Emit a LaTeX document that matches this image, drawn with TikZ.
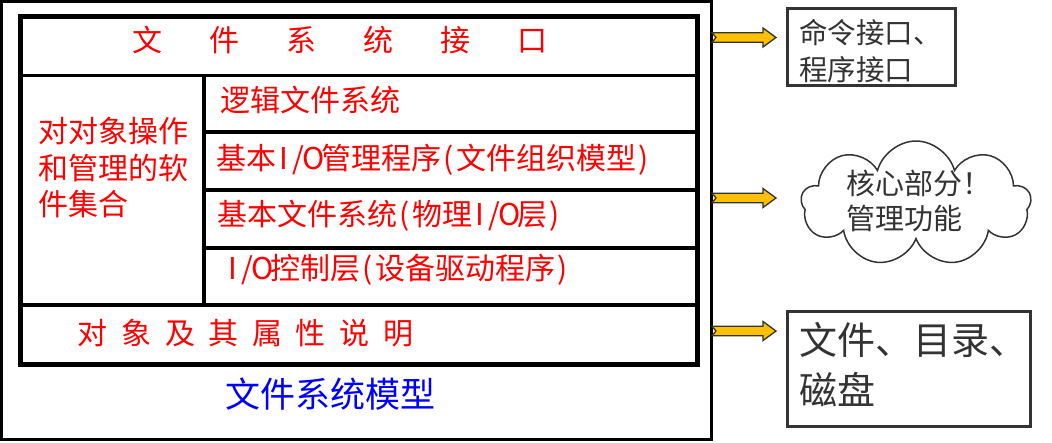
\documentclass[tikz,border=0pt]{standalone}
\usepackage{fontspec}
\newfontfamily\cjk{Noto Sans CJK SC}
\usetikzlibrary{shapes.symbols}
\definecolor{arrowfill}{HTML}{FFC000}
\definecolor{darkline}{HTML}{333333}
\newcommand\hw[1]{\makebox[15pt][c]{#1}}
\newcommand\gapA{\hspace{47pt}}
\newcommand\gapB{\hspace{13.6pt}}
\newcommand\fatarr[2]{%
  \coordinate (#2) at (712,#1);
  \draw[fill=arrowfill, draw=darkline, line width=1.3pt, line join=miter]
    (712,#1-4.8) -- (763,#1-4.8) -- (763,#1-9.5) -- (776,#1) -- (763,#1+9.5)
    -- (763,#1+4.8) -- (712,#1+4.8) -- (716,#1) -- cycle;}
\begin{document}
\begin{tikzpicture}[x=1pt,y=-1pt,
  redtxt/.style={font=\cjk\fontsize{30}{36.5}\selectfont, text=red, inner sep=0pt},
  grtxt/.style={font=\cjk\fontsize{#1}{#1}\selectfont, text=darkline, inner sep=0pt, align=left},
  sidebox/.style={draw=darkline, line width=3pt, inner sep=0pt},
  gridline/.style={line width=3.5pt}]
\useasboundingbox (0,0) rectangle (1052,442);
\fill[white] (0,0) rectangle (1052,442);
% outer and inner frames
\draw[line width=3pt] (1.5,1.5) rectangle (711.5,439.5);
\draw[line width=5pt] (20,16) rectangle (697,364.5);
\draw[gridline] (20,75.5) -- (697,75.5);
\draw[gridline] (20,305) -- (697,305);
\draw[gridline] (204,75.5) -- (204,305);
\draw[gridline] (204,132) -- (697,132);
\draw[gridline] (204,190) -- (697,190);
\draw[gridline] (204,248) -- (697,248);
% texts in model
\node[redtxt] (iface) at (340,40) {文\gapA 件\gapA 系\gapA 统\gapA 接\gapA 口};
\node[redtxt, align=left, anchor=west] (soft) at (38,168) {对对象操作\\和管理的软\\件集合};
\node[redtxt, anchor=west] (logic) at (220,100) {逻辑文件系统};
\node[redtxt, anchor=west] (basicio) at (216,160) {基本\hw{I}\hw{/}\hw{O}管理程序\hw{(}文件组织模型\hw{)}};
\node[redtxt, anchor=west] (basicfs) at (217,216) {基本文件系统\hw{(}物理\hw{I}\hw{/}\hw{O}层\hw{)}};
\node[redtxt, anchor=west] (ioctl) at (225,270) {\hw{I}\hw{/}\hw{O}控制层\hw{(}设备驱动程序\hw{)}};
\node[redtxt] (attr) at (245.5,333.5) {对\gapB 象\gapB 及\gapB 其\gapB 属\gapB 性\gapB 说\gapB 明};
\node[font=\cjk\fontsize{35}{40}\selectfont, text=blue, inner sep=0pt] (title) at (330.5,394) {文件系统模型};
% right side
\node[sidebox, minimum width=168pt, minimum height=77pt] (cmd) at (871,46.5) {};
\node[grtxt=28.5, anchor=west] (cmdtxt) at (799,51) {命令接口、\\[8.5pt]程序接口};
\node[cloud, draw=darkline, line width=1.5pt, cloud puffs=9, aspect=1.83,
      minimum width=230pt, minimum height=125pt, inner sep=0pt] (core) at (916,203.5) {};
\node[grtxt=29, anchor=west] (coretxt) at (846,201) {核心部分！\\[6.5pt]管理功能};
\node[sidebox, minimum width=243pt, minimum height=115pt] (files) at (908.5,368.5) {};
\node[grtxt=38, anchor=west] (filestxt) at (799,365) {文件、目录、\\[12pt]磁盘};
% arrows
\fatarr{37.5}{a1}
\fatarr{198}{a2}
\fatarr{331}{a3}
\end{tikzpicture}
\end{document}
